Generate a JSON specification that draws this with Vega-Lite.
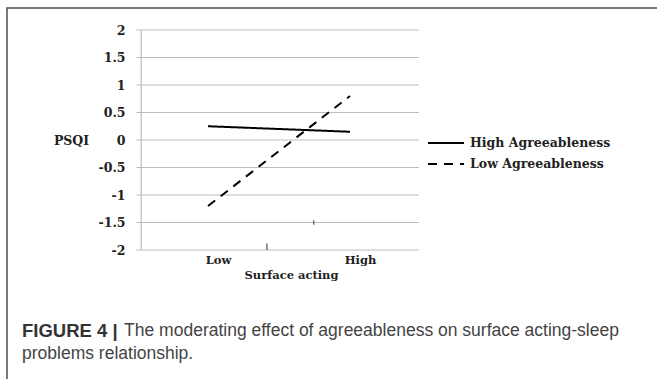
{
  "$schema": "https://vega.github.io/schema/vega-lite/v6.json",
  "width": 650,
  "height": 371,
  "autosize": {"type": "none"},
  "padding": {"left": 7, "top": 8, "right": 0, "bottom": 0},
  "background": "white",
  "config": {
    "view": {"stroke": "#4d4d4d", "strokeWidth": 1.5, "strokeDash": [650, 1021, 371]},
    "font": "DejaVu Serif"
  },
  "title": {
    "text": "FIGURE 4 |",
    "subtitle": ["\u200b\u00a0\u00a0\u00a0\u00a0\u00a0\u00a0\u00a0\u00a0\u00a0\u00a0\u00a0\u00a0\u00a0\u00a0\u00a0\u00a0\u00a0\u00a0\u00a0\u00a0\u00a0The moderating effect of agreeableness on surface acting-sleep", "problems relationship."],
    "orient": "bottom",
    "anchor": "start",
    "frame": "group",
    "offset": -57,
    "dx": 15,
    "font": "Liberation Sans",
    "fontSize": 18.5,
    "fontWeight": "bold",
    "color": "#333333",
    "baseline": "top",
    "subtitleFont": "Liberation Sans",
    "subtitleFontSize": 17.5,
    "subtitleFontWeight": "normal",
    "subtitleColor": "#444444",
    "subtitlePadding": -18.5,
    "subtitleLineHeight": 23
  },
  "datasets": {
    "grid": [{"y": -2}, {"y": -1.5}, {"y": -1}, {"y": -0.5}, {"y": 0}, {"y": 0.5}, {"y": 1}, {"y": 1.5}, {"y": 2}],
    "stray": [{"x": -0.17, "y": -2, "y2": -1.88}, {"x": 0.49, "y": -1.46, "y2": -1.54}],
    "lines": [
      {"group": "High Agreeableness", "surface": -1, "psqi": 0.25},
      {"group": "High Agreeableness", "surface": 1, "psqi": 0.15},
      {"group": "Low Agreeableness", "surface": -1, "psqi": -1.2},
      {"group": "Low Agreeableness", "surface": 1, "psqi": 0.8}
    ]
  },
  "layer": [
    {
      "data": {"name": "grid"},
      "mark": {"type": "rule", "color": "#bdbdbd", "strokeWidth": 1.2},
      "encoding": {
        "x": {
          "datum": -2.01, "type": "quantitative",
          "scale": {"domain": [-1, 1], "range": [201, 343], "zero": false, "nice": false},
          "axis": {
            "orient": "bottom", "offset": -129, "values": [-1, 1],
            "labelExpr": "datum.value < 0 ? 'Low' : 'High'",
            "grid": false, "domain": false, "ticks": false, "tickSize": 0,
            "labelFont": "DejaVu Serif", "labelFontSize": 11.5, "labelFontWeight": "bold", "labelColor": "#222222",
            "labelOffset": 10, "labelPadding": 4, "labelFlush": false,
            "title": "Surface acting", "titleFont": "DejaVu Serif", "titleFontSize": 11.5,
            "titleFontWeight": "bold", "titleColor": "#222222",
            "titleX": 284, "titleY": 25, "titleBaseline": "middle", "titleAlign": "center"
          }
        },
        "x2": {"datum": 1.97},
        "y": {
          "field": "y", "type": "quantitative",
          "scale": {"domain": [-2, 2], "range": [242, 22], "zero": false, "nice": false},
          "axis": {
            "orient": "left", "offset": -134, "values": [-2, -1.5, -1, -0.5, 0, 0.5, 1, 1.5, 2],
            "labelExpr": "'' + datum.value",
            "grid": false, "domain": false, "ticks": false, "tickSize": 0,
            "labelFont": "DejaVu Serif", "labelFontSize": 12.5, "labelFontWeight": "bold", "labelColor": "#222222",
            "labelPadding": 16, "labelAlign": "right", "labelBaseline": "middle",
            "title": "PSQI", "titleFont": "DejaVu Serif", "titleFontSize": 12.5,
            "titleFontWeight": "bold", "titleColor": "#222222", "titleAngle": 0,
            "titleX": -70, "titleY": 132, "titleAlign": "center", "titleBaseline": "middle"
          }
        }
      }
    },
    {
      "data": {"values": [{"a": 1}]},
      "mark": {"type": "rule", "color": "#bdbdbd", "strokeWidth": 1.2},
      "encoding": {
        "x": {"datum": -1.94, "type": "quantitative"},
        "y": {"datum": -2, "type": "quantitative"},
        "y2": {"datum": 2}
      }
    },
    {
      "data": {"name": "stray"},
      "mark": {"type": "rule", "color": "#333333", "strokeWidth": 1},
      "encoding": {
        "x": {"field": "x", "type": "quantitative"},
        "y": {"field": "y", "type": "quantitative"},
        "y2": {"field": "y2"}
      }
    },
    {
      "data": {"name": "lines"},
      "mark": {"type": "line", "color": "black", "strokeWidth": 2},
      "encoding": {
        "x": {"field": "surface", "type": "quantitative"},
        "y": {"field": "psqi", "type": "quantitative"},
        "strokeDash": {
          "field": "group", "type": "nominal",
          "scale": {"domain": ["High Agreeableness", "Low Agreeableness"], "range": [[1, 0], [9, 7]]},
          "legend": {
            "orient": "none", "legendX": 420, "legendY": 128, "title": null, "padding": 0,
            "symbolType": "stroke", "symbolSize": 1296, "symbolStrokeWidth": 2,
            "symbolStrokeColor": "black", "clipHeight": 14,
            "labelFont": "DejaVu Serif", "labelFontSize": 12.5, "labelFontWeight": "bold", "labelColor": "#222222",
            "labelOffset": 5, "rowPadding": 7
          }
        }
      }
    }
  ]
}
